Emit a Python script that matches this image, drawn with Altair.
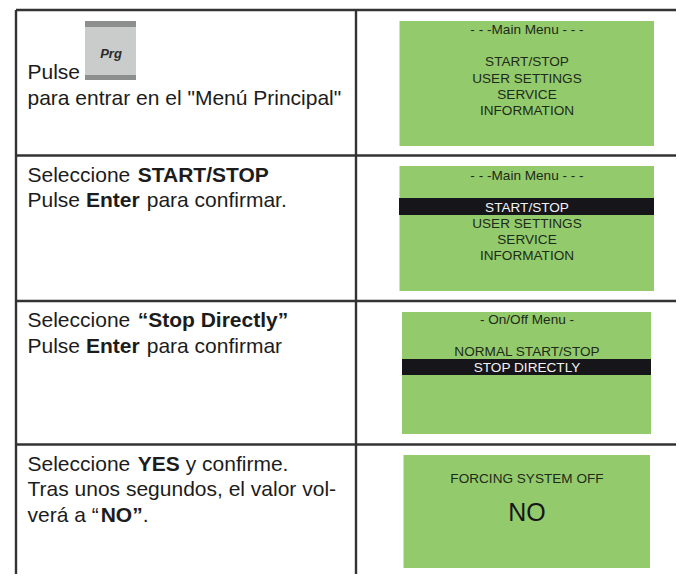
import altair as alt
import pandas as pd

W, H, M = 684, 582, 8
LINE = "#333333"; GREEN = "#93cb6c"; DARK = "#16151a"; INK = "#1c1c1c"; LCD = "#1e2a1a"

# Table frame: (x, x2, y, y2)
frame = [
    (16, 16, 10, 582), (356, 356, 10, 582),
    (16, 684, 10, 10), (16, 684, 155.5, 155.5),
    (16, 684, 301, 301), (16, 684, 444.5, 444.5),
]
# Filled panels: (x, x2, y, y2, colour)
panels = [
    (399.5, 654, 21, 146, GREEN), (399.5, 654, 166, 291, GREEN),
    (402, 651, 312, 434, GREEN), (403.5, 650, 455, 568, GREEN),
    (399, 654, 198, 215, DARK), (402, 651, 359, 375, DARK),
    (85, 136, 21, 80, "#c9cccb"), (85, 136, 21, 27, "#8d8f8e"), (85, 136, 75, 80, "#8d8f8e"),
]
# LCD text: (text, y, colour, size)
lcd = [
    ("- - -Main Menu - - -", 34, LCD, 13.6), ("START/STOP", 66, LCD, 13.6), ("USER SETTINGS", 83, LCD, 13.6),
    ("SERVICE", 99, LCD, 13.6), ("INFORMATION", 115, LCD, 13.6),
    ("- - -Main Menu - - -", 180, LCD, 13.6), ("START/STOP", 212, "#f2f2f2", 13.6), ("USER SETTINGS", 228, LCD, 13.6),
    ("SERVICE", 244, LCD, 13.6), ("INFORMATION", 260, LCD, 13.6),
    ("- On/Off Menu -", 324, LCD, 13.6), ("NORMAL START/STOP", 356, LCD, 13.6), ("STOP DIRECTLY", 372, "#f2f2f2", 13.6),
    ("FORCING SYSTEM OFF", 483, LCD, 13.6), ("NO", 521, "#161616", 25),
]
# Left column runs: (text, x, baseline y, weight)
runs = [
    ("Pulse", 27.5, 79, "normal"), ('para entrar en el "Menú Principal"', 27.5, 105, "normal"),
    ("Seleccione", 27.5, 182, "normal"), ("START/STOP", 137.7, 182, "bold"),
    ("Pulse", 27.5, 207, "normal"), ("Enter", 86, 207, "bold"), ("para confirmar.", 146.7, 207, "normal"),
    ("Seleccione", 27.5, 327, "normal"), ("“Stop Directly”", 137.7, 327, "bold"),
    ("Pulse", 27.5, 353, "normal"), ("Enter", 86, 353, "bold"), ("para confirmar", 146.7, 353, "normal"),
    ("Seleccione", 27.5, 471, "normal"), ("YES", 137.7, 471, "bold"), ("y confirme.", 185.7, 471, "normal"),
    ("Tras unos segundos, el valor vol-", 27.5, 496, "normal"),
    ("verá a “", 27.5, 522, "normal"), ("NO”", 100.7, 522, "bold"), (".", 142.7, 522, "normal"),
]
button_label = [("Prg", 111, 58)]

PW, PH = W - 2 * M, H - 2 * M
X = alt.Scale(domain=[M, M + PW], range=[0, PW], nice=False, zero=False, clamp=True)
Y = alt.Scale(domain=[M, M + PH], range=[0, PH], nice=False, zero=False, clamp=True)
x = lambda f: alt.X(f, type="quantitative", scale=X, axis=None)
y = lambda f: alt.Y(f, type="quantitative", scale=Y, axis=None)

df_panels = pd.DataFrame(panels, columns=["x", "x2", "y", "y2", "c"]).reset_index()
df_frame = pd.DataFrame(frame, columns=["x", "x2", "y", "y2"])
df_lcd = pd.DataFrame(lcd, columns=["t", "y", "c", "s"]).assign(x=527)
df_runs = pd.DataFrame(runs, columns=["t", "x", "y", "w"])
df_btn = pd.DataFrame(button_label, columns=["t", "x", "y"])

rects = alt.Chart(df_panels).mark_rect().encode(
    x=x("x"), x2="x2", y=y("y"), y2="y2",
    color=alt.Color("c:N", scale=None), order="index:O")
rules = alt.Chart(df_frame).mark_rule(color=LINE, strokeWidth=2.4).encode(
    x=x("x"), x2="x2", y=y("y"), y2="y2")
font = "Liberation Sans"
lcd_text = alt.Chart(df_lcd).mark_text(font=font, align="center", baseline="alphabetic").encode(
    x=x("x"), y=y("y"), text="t:N", color=alt.Color("c:N", scale=None),
    size=alt.Size("s:Q", scale=None))
base_run = alt.Chart(df_runs[df_runs.w == "normal"]).mark_text(
    font=font, fontSize=21, align="left", baseline="alphabetic", color=INK
).encode(x=x("x"), y=y("y"), text="t:N")
bold_run = alt.Chart(df_runs[df_runs.w == "bold"]).mark_text(
    font=font, fontSize=21, fontWeight="bold", align="left", baseline="alphabetic", color=INK
).encode(x=x("x"), y=y("y"), text="t:N")
btn = alt.Chart(df_btn).mark_text(
    font=font, fontSize=13, fontWeight="bold", fontStyle="italic", align="center",
    baseline="alphabetic", color="#2a2a2a"
).encode(x=x("x"), y=y("y"), text="t:N")

chart = alt.layer(rects, rules, lcd_text, base_run, bold_run, btn).properties(
    width=PW, height=PH, padding=0,
    autosize=alt.AutoSizeParams(type="none"),
    background="#ffffff",
).configure_view(stroke=None)

chart.save("out.html", embed_options={"renderer": "svg", "actions": False})
